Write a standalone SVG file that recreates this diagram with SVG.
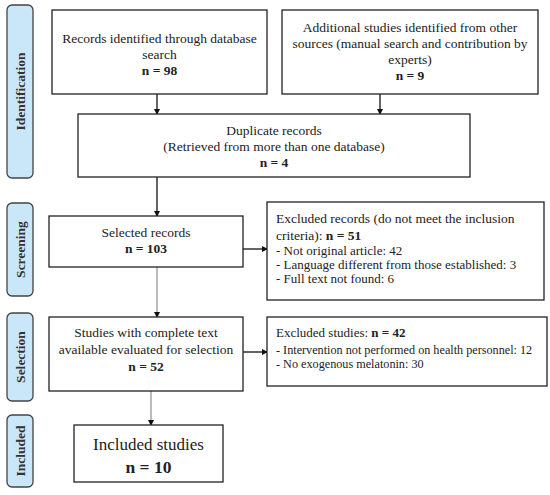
<svg xmlns="http://www.w3.org/2000/svg" width="550" height="495" viewBox="0 0 550 495">
<style>
.box{fill:#fff;stroke:#222;stroke-width:1.3}
.side{fill:#C9E7F8;stroke:#444;stroke-width:1.3}
.t{font-family:"Liberation Serif","DejaVu Serif",serif;font-size:13.5px;fill:#222}
.c{text-anchor:middle}
.b{font-weight:bold}
.s{font-size:13px}
.s2{font-size:12.2px}
.sl{font-family:"Liberation Serif","DejaVu Serif",serif;font-size:13.5px;font-weight:bold;fill:#333;text-anchor:middle}
.ln{stroke:#111;stroke-width:1.3;fill:none}
.lt{stroke:#555;stroke-width:0.8;fill:none}
</style>
<defs>
<marker id="ah" markerWidth="6" markerHeight="6" refX="5" refY="3" orient="auto" markerUnits="userSpaceOnUse"><path d="M0,0 L6,3 L0,6 Z" fill="#111"/></marker>
</defs>
<rect width="550" height="495" fill="#fff"/>
<g id="side-identification"><rect class="side" x="7" y="5" width="26" height="173" rx="5"/><text class="sl" transform="translate(25,91.5) rotate(-90)">Identification</text></g>
<g id="side-screening"><rect class="side" x="7" y="203" width="26" height="93" rx="5"/><text class="sl" transform="translate(25,249.5) rotate(-90)">Screening</text></g>
<g id="side-selection"><rect class="side" x="7" y="313" width="26" height="88" rx="5"/><text class="sl" transform="translate(25,357) rotate(-90)">Selection</text></g>
<g id="side-included"><rect class="side" x="7" y="415" width="26" height="72" rx="5"/><text class="sl" transform="translate(25,451) rotate(-90)">Included</text></g>
<g id="connectors">
<line class="ln" x1="157" y1="94" x2="157" y2="114" marker-end="url(#ah)"/>
<line class="ln" x1="380" y1="94" x2="380" y2="114" marker-end="url(#ah)"/>
<line class="ln" x1="157" y1="177" x2="157" y2="216" marker-end="url(#ah)"/>
<line class="ln" x1="243" y1="249" x2="267" y2="249" marker-end="url(#ah)"/>
<line class="lt" x1="157" y1="267" x2="157" y2="317" marker-end="url(#ah)"/>
<line class="ln" x1="243" y1="352" x2="267" y2="352" marker-end="url(#ah)"/>
<line class="lt" x1="151" y1="391" x2="151" y2="425" marker-end="url(#ah)"/>
</g>
<g id="records-db"><rect class="box" x="52" y="10" width="215" height="84"/>
<text class="t c" x="159.5" y="43">Records identified through database</text>
<text class="t c" x="159.5" y="59">search</text>
<text class="t c b" x="159.5" y="75">n = 98</text></g>
<g id="records-other"><rect class="box" x="282" y="10" width="256" height="84"/>
<text class="t c" x="410" y="32">Additional studies identified from other</text>
<text class="t c" x="410" y="48">sources (manual search and contribution by</text>
<text class="t c" x="410" y="64">experts)</text>
<text class="t c b" x="410" y="80">n = 9</text></g>
<g id="duplicates"><rect class="box" x="78" y="114" width="392" height="63"/>
<text class="t c" x="274" y="135">Duplicate records</text>
<text class="t c" x="274" y="151">(Retrieved from more than one database)</text>
<text class="t c b" x="274" y="167">n = 4</text></g>
<g id="selected"><rect class="box" x="49" y="216" width="194" height="51"/>
<text class="t c" x="146" y="237">Selected records</text>
<text class="t c b" x="146" y="253">n = 103</text></g>
<g id="excluded-records"><rect class="box" x="267" y="202" width="277" height="98"/>
<text class="t" x="276" y="223">Excluded records (do not meet the inclusion</text>
<text class="t" x="276" y="240">criteria): <tspan class="b">n = 51</tspan></text>
<text class="t s" x="276" y="255">- Not original article: 42</text>
<text class="t s" x="276" y="269">- Language different from those established: 3</text>
<text class="t s" x="276" y="283">- Full text not found: 6</text></g>
<g id="fulltext"><rect class="box" x="49" y="317" width="194" height="74"/>
<text class="t c" x="146" y="337">Studies with complete text</text>
<text class="t c" x="146" y="354">available evaluated for selection</text>
<text class="t c b" x="146" y="371">n = 52</text></g>
<g id="excluded-studies"><rect class="box" x="267" y="317" width="280" height="69"/>
<text class="t" x="276" y="337" style="font-size:13px">Excluded studies: <tspan class="b">n = 42</tspan></text>
<text class="t s2" x="276" y="354">- Intervention not performed on health personnel: 12</text>
<text class="t s2" x="276" y="368">- No exogenous melatonin: 30</text></g>
<g id="included"><rect class="box" x="74" y="425" width="149" height="57"/>
<text class="t c" x="148.5" y="450" style="font-size:17px">Included studies</text>
<text class="t c b" x="148.5" y="473" style="font-size:17.5px">n = 10</text></g>
</svg>
